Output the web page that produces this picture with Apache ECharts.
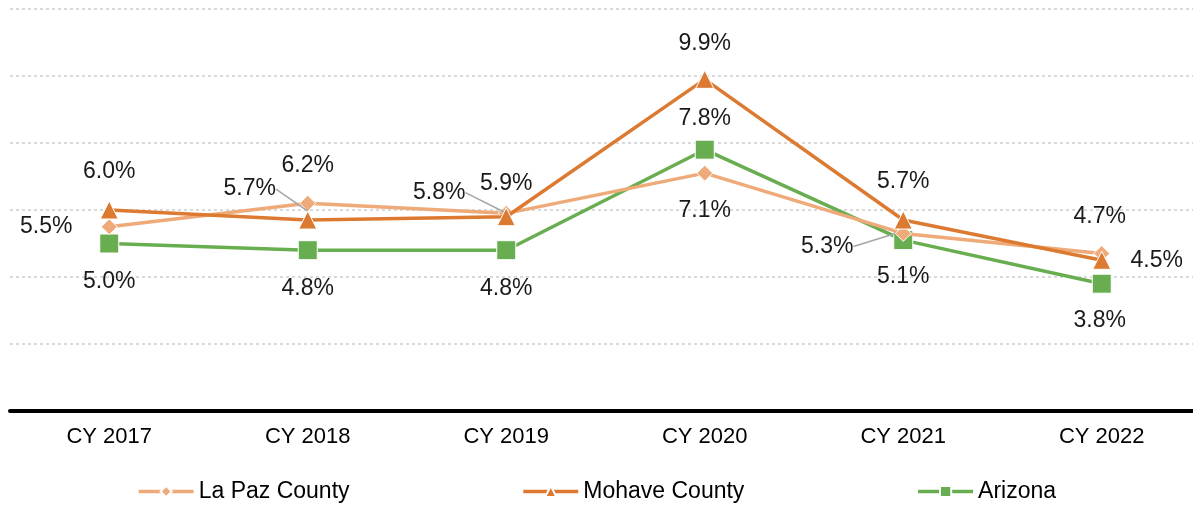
<!DOCTYPE html>
<html>
<head>
<meta charset="utf-8">
<script src="https://cdn.jsdelivr.net/npm/echarts@6/dist/echarts.min.js"></script>
<style>
  html, body { margin: 0; padding: 0; background: #fff; }
  #main { width: 1193px; height: 506px; }
</style>
</head>
<body>
<div id="main"></div>
<script>
// categories and values (percent)
var years = ['CY 2017', 'CY 2018', 'CY 2019', 'CY 2020', 'CY 2021', 'CY 2022'];
var laPaz = [5.5, 6.2, 5.9, 7.1, 5.3, 4.7];
var mohave = [6.0, 5.7, 5.8, 9.9, 5.7, 4.5];
var arizona = [5.0, 4.8, 4.8, 7.8, 5.1, 3.8];
var seriesNames = ['La Paz County', 'Mohave County', 'Arizona'];

// label offsets from each marker [dx, dy], and which labels get a leader line
var laPazLabelPos = [[-63, 0], [0, -38], [0, -30], [0, 38], [-76, 13], [-2, -37]];
var mohaveLabelPos = [[0, -38], [-58, -31], [-67, -24], [0, -36], [0, -38], [55, 0]];
var arizonaLabelPos = [[0, 38], [0, 38], [0, 38], [0, -31], [0, 37], [-2, 37]];
var leaderLines = { 'La Paz County': [4], 'Mohave County': [1, 2] };

var font = 'Liberation Sans, Arial, sans-serif';

function makeSeries(name, values, color, symbol, size, offsets, z) {
	var leaders = leaderLines[name] || [];
	return {
		name: name,
		type: 'line',
		data: values.map(function (v, i) {
			return {
				value: v,
				labelLine: { show: leaders.indexOf(i) >= 0 }
			};
		}),
		z: z,
		symbol: symbol,
		symbolSize: size,
		lineStyle: { color: color, width: 3.5 },
		itemStyle: { color: color, borderColor: '#fff', borderWidth: 1 },
		label: {
			show: true,
			formatter: function (p) { return p.value.toFixed(1) + '%'; },
			color: '#1a1a1a',
			fontFamily: font,
			fontSize: 23
		},
		labelLine: {
			lineStyle: { color: '#a6a6a6', width: 1.5 }
		},
		labelLayout: function (params) {
			var r = params.rect;
			var off = offsets[params.dataIndex];
			return {
				x: r.x + r.width / 2 + off[0],
				y: r.y + r.height / 2 + off[1],
				align: 'center',
				verticalAlign: 'middle'
			};
		},
		emphasis: { disabled: true }
	};
}

var chart = echarts.init(document.getElementById('main'));
var option = {
	animation: false,
	backgroundColor: '#fff',
	textStyle: { fontFamily: font },
	grid: { left: 10, width: 1191, top: 9, bottom: 95, containLabel: false, outerBoundsMode: 'none' },
	legend: {
		bottom: -2,
		left: 'center',
		itemGap: 172,
		itemWidth: 55,
		itemHeight: 14,
		lineStyle: { width: 3.5 },
		textStyle: { color: '#000', fontSize: 23, fontFamily: font },
		data: seriesNames
	},
	xAxis: {
		type: 'category',
		data: years,
		boundaryGap: true,
		axisTick: { show: false },
		axisLine: { lineStyle: { color: '#000', width: 4 } },
		axisLabel: { color: '#000', fontSize: 22, fontFamily: font, margin: 15 }
	},
	yAxis: {
		type: 'value',
		min: 0,
		max: 12,
		interval: 2,
		axisLabel: { show: false },
		axisLine: { show: false },
		axisTick: { show: false },
		splitLine: { lineStyle: { color: '#d9d9d9', type: [3, 3], width: 2 } }
	},
	series: [
		makeSeries('La Paz County', laPaz, '#eeaa78', 'diamond', 16, laPazLabelPos, 3),
		makeSeries('Mohave County', mohave, '#dd7a31', 'triangle', 18, mohaveLabelPos, 4),
		makeSeries('Arizona', arizona, '#68ae50', 'rect', 19, arizonaLabelPos, 2)
	]
};
chart.setOption(option);
</script>
</body>
</html>
